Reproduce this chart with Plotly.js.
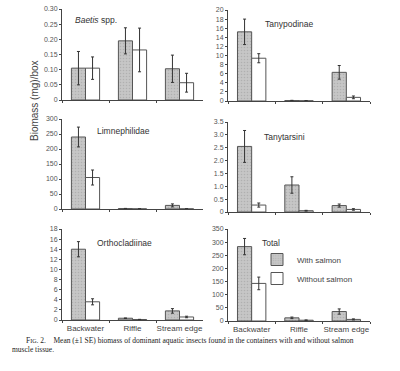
<!DOCTYPE html>
<html>
<head>
<meta charset="utf-8">
<script src="https://cdn.plot.ly/plotly-3.0.1.min.js"></script>
<style>html,body{margin:0;padding:0;background:#fff;}#chart{width:400px;height:371px;}</style>
</head>
<body>
<div id="chart"></div>
<script>
// ---- data ----
const habitats = ["Backwater", "Riffle", "Stream edge"];
const seriesNames = ["With salmon", "Without salmon"];

const baetisWith = [0.105, 0.195, 0.103];
const baetisWithSE = [0.055, 0.043, 0.045];
const baetisWithout = [0.105, 0.165, 0.057];
const baetisWithoutSE = [0.037, 0.072, 0.031];

const tanypodinaeWith = [15.2, 0.1, 6.3];
const tanypodinaeWithSE = [2.8, 0.05, 1.5];
const tanypodinaeWithout = [9.4, 0.05, 0.8];
const tanypodinaeWithoutSE = [1.0, 0.03, 0.3];

const limnephilidaeWith = [240, 1.5, 12];
const limnephilidaeWithSE = [33, 0.5, 5];
const limnephilidaeWithout = [105, 0.5, 0.5];
const limnephilidaeWithoutSE = [25, 0.3, 0.3];

const tanytarsiniWith = [2.55, 1.05, 0.25];
const tanytarsiniWithSE = [0.62, 0.32, 0.06];
const tanytarsiniWithout = [0.27, 0.05, 0.1];
const tanytarsiniWithoutSE = [0.08, 0.015, 0.03];

const orthocladiinaeWith = [14.0, 0.35, 1.8];
const orthocladiinaeWithSE = [1.5, 0.05, 0.45];
const orthocladiinaeWithout = [3.6, 0.1, 0.6];
const orthocladiinaeWithoutSE = [0.6, 0.03, 0.15];

const totalWith = [283, 12, 36];
const totalWithSE = [31, 3, 10];
const totalWithout = [143, 3, 6];
const totalWithoutSE = [24, 1, 2];

const panelTitles = ["<i>Baetis</i> spp.", "Tanypodinae", "Limnephilidae", "Tanytarsini", "Orthocladiinae", "Total"];

const baetisTicks = [0, 0.05, 0.10, 0.15, 0.20, 0.25, 0.30];
const baetisTickText = ["0", "0.05", "0.10", "0.15", "0.20", "0.25", "0.30"];
const tanypodinaeTicks = [0, 2, 4, 6, 8, 10, 12, 14, 16, 18, 20];
const limnephilidaeTicks = [0, 50, 100, 150, 200, 250, 300];
const tanytarsiniTicks = [0, 0.5, 1.0, 1.5, 2.0, 2.5, 3.0, 3.5];
const tanytarsiniTickText = ["0", "0.5", "1.0", "1.5", "2.0", "2.5", "3.0", "3.5"];
const orthocladiinaeTicks = [0, 2, 4, 6, 8, 10, 12, 14, 16, 18];
const totalTicks = [0, 50, 100, 150, 200, 250, 300, 350];

const yTitle = "Biomass (mg)/box";
const caption1 = "F<span style=\"font-size:6px\">IG</span>. 2.    Mean (±1 SE) biomass of dominant aquatic insects found in the containers with and without salmon";
const caption2 = "muscle tissue.";

// ---- build ----
const panels = [
  {w: baetisWith, we: baetisWithSE, o: baetisWithout, oe: baetisWithoutSE, tv: baetisTicks, tt: baetisTickText, max: 0.30},
  {w: tanypodinaeWith, we: tanypodinaeWithSE, o: tanypodinaeWithout, oe: tanypodinaeWithoutSE, tv: tanypodinaeTicks, tt: tanypodinaeTicks.map(String), max: 20},
  {w: limnephilidaeWith, we: limnephilidaeWithSE, o: limnephilidaeWithout, oe: limnephilidaeWithoutSE, tv: limnephilidaeTicks, tt: limnephilidaeTicks.map(String), max: 300},
  {w: tanytarsiniWith, we: tanytarsiniWithSE, o: tanytarsiniWithout, oe: tanytarsiniWithoutSE, tv: tanytarsiniTicks, tt: tanytarsiniTickText, max: 3.5},
  {w: orthocladiinaeWith, we: orthocladiinaeWithSE, o: orthocladiinaeWithout, oe: orthocladiinaeWithoutSE, tv: orthocladiinaeTicks, tt: orthocladiinaeTicks.map(String), max: 18},
  {w: totalWith, we: totalWithSE, o: totalWithout, oe: totalWithoutSE, tv: totalTicks, tt: totalTicks.map(String), max: 350}
];

const W = 400, H = 371;
// pixel boxes [left, right, top, bottom]
const boxes = [
  [62, 203, 9, 100], [228, 370, 10, 101],
  [62, 203, 119, 209], [228, 370, 122, 212],
  [62, 203, 229, 320], [228, 370, 229, 321]
];
const titlePos = [[73, 20], [263, 24], [95, 131], [262, 137], [95, 243], [260, 243]];

const font = "Liberation Sans, Arial, sans-serif";
const axisColor = "#444";
const tickFont = {family: font, size: 7, color: "#555"};

const traces = [];
const layout = {
  width: W, height: H,
  margin: {l: 0, r: 0, t: 0, b: 0},
  paper_bgcolor: "#fff", plot_bgcolor: "rgba(0,0,0,0)",
  barmode: "group", bargap: 0.4, bargroupgap: 0,
  showlegend: true,
  legend: {x: 257 / W, y: 1 - 245 / H, xanchor: "left", yanchor: "top",
           font: {family: font, size: 8, color: "#444"}, bgcolor: "rgba(0,0,0,0)",
           tracegroupgap: 0, itemwidth: 30},
  annotations: [], shapes: []
};

panels.forEach((p, i) => {
  const k = i + 1;
  const xa = "x" + k, ya = "y" + k;
  const isLast = i === 5;
  traces.push({
    type: "bar", x: habitats, y: p.w, name: seriesNames[0], xaxis: xa, yaxis: ya,
    showlegend: isLast, legendgroup: "w",
    marker: {color: "#c2c2c2", line: {color: "#555", width: 1},
             pattern: {shape: ".", fgcolor: "#b0b0b0", bgcolor: "#c6c6c6", size: 3, solidity: 0.2}},
    error_y: {type: "data", array: p.we, visible: true, color: "#333", thickness: 1, width: 1.5}
  });
  traces.push({
    type: "bar", x: habitats, y: p.o, name: seriesNames[1], xaxis: xa, yaxis: ya,
    showlegend: isLast, legendgroup: "o",
    marker: {color: "#ffffff", line: {color: "#555", width: 1}},
    error_y: {type: "data", array: p.oe, visible: true, color: "#333", thickness: 1, width: 1.5}
  });
  const b = boxes[i];
  const bottomRow = i >= 4;
  layout["xaxis" + (k === 1 ? "" : k)] = {
    domain: [b[0] / W, b[1] / W], anchor: ya, type: "category",
    showline: true, linecolor: axisColor, linewidth: 1,
    ticks: "outside", tickson: "boundaries", ticklen: 2, tickcolor: axisColor,
    showticklabels: bottomRow, tickangle: 0, tickfont: {family: font, size: 8, color: "#444"},
    showgrid: false, zeroline: false, fixedrange: true
  };
  layout["yaxis" + (k === 1 ? "" : k)] = {
    domain: [1 - b[3] / H, 1 - b[2] / H], anchor: xa, range: [0, p.max],
    showline: true, linecolor: axisColor, linewidth: 1,
    ticks: "outside", ticklen: 2, tickcolor: axisColor,
    tickvals: p.tv, ticktext: p.tt, tickfont: tickFont,
    showgrid: false, zeroline: false, fixedrange: true
  };
  layout.annotations.push({
    xref: "paper", yref: "paper", x: titlePos[i][0] / W, y: 1 - titlePos[i][1] / H,
    xanchor: "left", yanchor: "middle", showarrow: false, text: panelTitles[i],
    font: {family: font, size: 8.5, color: "#333"}
  });
});

layout.annotations.push({
  xref: "paper", yref: "paper", x: 35 / W, y: 1 - 101 / H, textangle: -90,
  xanchor: "center", yanchor: "middle", showarrow: false, text: yTitle,
  font: {family: font, size: 10, color: "#444"}
});
layout.annotations.push({
  xref: "paper", yref: "paper", x: 24 / W, y: 1 - 340 / H,
  xanchor: "left", yanchor: "middle", showarrow: false, text: caption1,
  font: {family: "Liberation Serif, Times New Roman, serif", size: 7.5, color: "#222"}
});
layout.annotations.push({
  xref: "paper", yref: "paper", x: 10 / W, y: 1 - 349.5 / H,
  xanchor: "left", yanchor: "middle", showarrow: false, text: caption2,
  font: {family: "Liberation Serif, Times New Roman, serif", size: 7.5, color: "#222"}
});

Plotly.newPlot("chart", traces, layout, {staticPlot: true, displayModeBar: false});
</script>
</body>
</html>
